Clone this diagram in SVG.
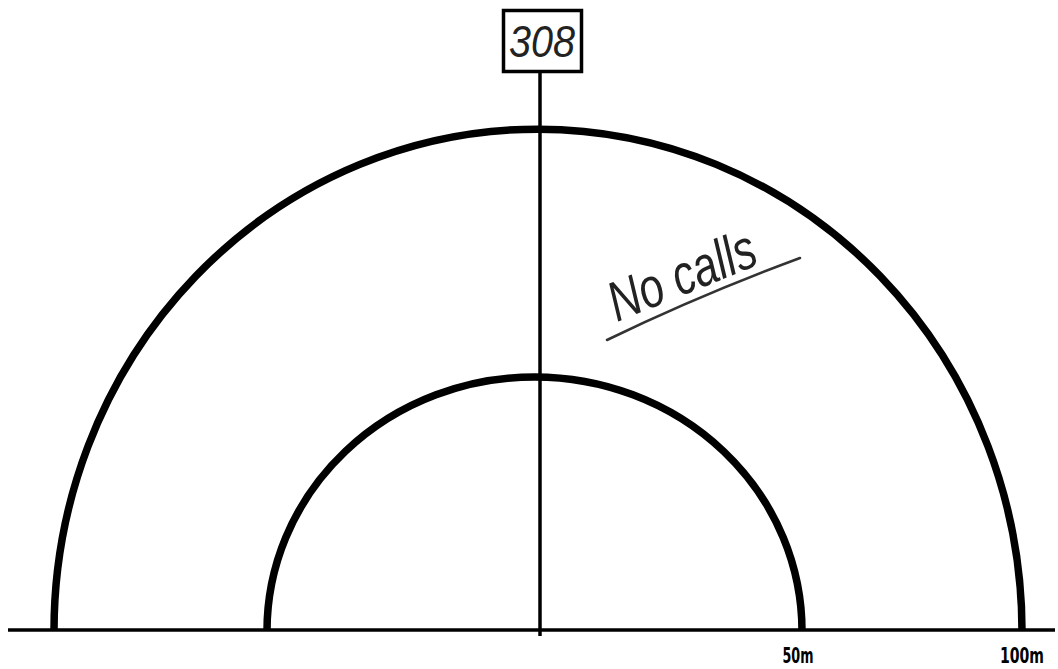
<svg xmlns="http://www.w3.org/2000/svg" width="1058" height="669" viewBox="0 0 1058 669">
<style>
.arc{fill:none;stroke:#000;stroke-width:7.5}
.ln{stroke:#000;stroke-width:3.5;fill:none}
.lbl{font-family:"DejaVu Sans Condensed","Liberation Sans",sans-serif;font-size:21px;fill:#000;font-weight:bold}
.hand{font-family:"Liberation Sans",sans-serif;font-style:italic;fill:#222}
</style>
<rect width="1058" height="669" fill="#fff"/>
<g id="rings">
<path class="arc" d="M54 631 A484 502 0 0 1 1022 631"/>
<path class="arc" d="M267 631 A267.5 254 0 0 1 802 631"/>
</g>
<g id="connectors">
<line class="ln" x1="8" y1="630" x2="1055" y2="630"/>
<line class="ln" x1="540" y1="73" x2="540" y2="636"/>
</g>
<g id="box308">
<rect x="503.5" y="10.5" width="78" height="61" fill="#fff" stroke="#000" stroke-width="3.5"/>
<text class="hand" x="542" y="57" font-size="44" text-anchor="middle" fill="#000" textLength="66" lengthAdjust="spacingAndGlyphs">308</text>
</g>
<g id="note">
<text class="hand" x="0" y="0" font-size="56" transform="translate(617 322) rotate(-22)" textLength="155" lengthAdjust="spacingAndGlyphs" font-weight="300">No calls</text>
<path d="M607 340 Q700 295 800 258" fill="none" stroke="#333" stroke-width="2.5" stroke-linecap="round"/>
</g>
<g id="labels">
<text class="lbl" x="798" y="663" text-anchor="middle" textLength="31" lengthAdjust="spacingAndGlyphs">50m</text>
<text class="lbl" x="1000" y="663" textLength="44" lengthAdjust="spacingAndGlyphs">100m</text>
</g>
</svg>
